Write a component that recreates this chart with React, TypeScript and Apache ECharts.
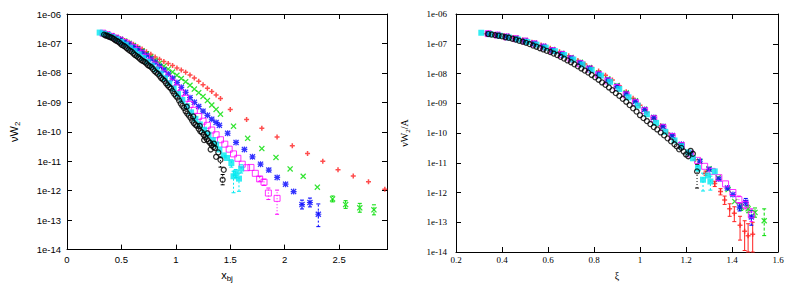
import React, { useEffect, useRef } from "react";
import * as echarts from "echarts";

// ---------- LEFT PANEL: x_bj vs log10(nu W2) ----------
const redLeft = [[0.33,-6.65],[0.37,-6.69],[0.41,-6.74],[0.45,-6.79],[0.49,-6.84],[0.53,-6.90],[0.57,-6.96],[0.61,-7.03],[0.65,-7.11],[0.69,-7.19],[0.73,-7.28],[0.77,-7.37],[0.81,-7.46],[0.85,-7.54],[0.89,-7.61],[0.93,-7.68],[0.97,-7.75],[1.01,-7.83],[1.05,-7.90],[1.09,-7.98],[1.13,-8.07],[1.17,-8.17],[1.21,-8.28],[1.25,-8.40],[1.29,-8.52],[1.33,-8.63],[1.37,-8.75],[1.41,-8.87],[1.50,-9.24],[1.65,-9.58],[1.79,-9.88],[1.93,-10.18],[2.07,-10.47],[2.21,-10.74],[2.35,-11.00],[2.49,-11.29],[2.63,-11.50],[2.77,-11.70],[2.92,-11.95]];
const greenLeft = [[0.33,-6.65],[0.37,-6.69],[0.41,-6.74],[0.45,-6.80],[0.49,-6.86],[0.53,-6.92],[0.57,-6.99],[0.61,-7.07],[0.65,-7.16],[0.69,-7.25],[0.73,-7.35],[0.77,-7.46],[0.81,-7.57],[0.85,-7.67],[0.89,-7.77],[0.93,-7.87],[0.97,-7.97],[1.01,-8.08],[1.05,-8.19],[1.09,-8.30],[1.13,-8.42],[1.17,-8.55],[1.21,-8.67],[1.25,-8.80],[1.29,-8.94],[1.33,-9.09],[1.37,-9.24],[1.41,-9.40],[1.53,-9.81],[1.66,-10.22],[1.79,-10.57],[1.92,-10.87],[2.05,-11.26],[2.17,-11.51],[2.30,-11.88],[2.44,-12.28],[2.56,-12.47],[2.69,-12.58],[2.82,-12.65]];
const blueLeft = [[0.33,-6.65],[0.37,-6.70],[0.41,-6.75],[0.45,-6.81],[0.49,-6.87],[0.53,-6.94],[0.57,-7.02],[0.61,-7.10],[0.65,-7.19],[0.69,-7.29],[0.73,-7.40],[0.77,-7.52],[0.81,-7.64],[0.85,-7.77],[0.89,-7.90],[0.93,-8.04],[0.97,-8.18],[1.01,-8.33],[1.05,-8.49],[1.09,-8.66],[1.13,-8.84],[1.17,-9.00],[1.21,-9.14],[1.25,-9.30],[1.29,-9.44],[1.33,-9.57],[1.37,-9.68],[1.40,-9.78],[1.476,-10.05],[1.553,-10.36],[1.63,-10.60],[1.704,-10.85],[1.778,-11.10],[1.854,-11.30],[1.931,-11.55],[2.008,-11.78],[2.082,-12.03],[2.159,-12.47],[2.232,-12.40],[2.309,-12.80]];
const magentaLeft = [[0.33,-6.65],[0.37,-6.70],[0.41,-6.76],[0.45,-6.82],[0.49,-6.89],[0.53,-6.97],[0.57,-7.05],[0.61,-7.14],[0.65,-7.24],[0.69,-7.35],[0.73,-7.47],[0.77,-7.60],[0.81,-7.74],[0.85,-7.88],[0.89,-8.03],[0.93,-8.18],[0.97,-8.34],[1.01,-8.51],[1.05,-8.68],[1.09,-8.86],[1.13,-9.07],[1.17,-9.27],[1.21,-9.48],[1.25,-9.64],[1.29,-9.78],[1.33,-9.94],[1.37,-10.10],[1.41,-10.27],[1.45,-10.42],[1.49,-10.59],[1.53,-10.75],[1.57,-10.90],[1.61,-11.10],[1.65,-11.22],[1.69,-11.21],[1.73,-11.41],[1.77,-11.60],[1.81,-11.71],[1.85,-12.08],[1.93,-12.26]];
const cyanLeft = [[0.30,-6.63],[0.34,-6.67],[0.38,-6.72],[0.42,-6.79],[0.46,-6.86],[0.50,-6.95],[0.54,-7.04],[0.58,-7.14],[0.62,-7.25],[0.66,-7.37],[0.70,-7.49],[0.74,-7.62],[0.78,-7.75],[0.82,-7.88],[0.86,-8.02],[0.90,-8.18],[0.94,-8.35],[0.98,-8.53],[1.02,-8.72],[1.06,-8.92],[1.10,-9.13],[1.14,-9.34],[1.18,-9.56],[1.22,-9.75],[1.26,-9.93],[1.30,-10.10],[1.34,-10.28],[1.37,-10.43],[1.40,-10.60],[1.44,-10.80],[1.47,-10.89],[1.51,-11.06],[1.53,-11.51],[1.55,-11.40],[1.58,-11.59],[1.60,-11.25]];
const blackLeft = [[0.34,-6.70],[0.355,-6.73],[0.37,-6.74],[0.385,-6.77],[0.40,-6.79],[0.415,-6.81],[0.43,-6.85],[0.445,-6.89],[0.46,-6.92],[0.475,-6.95],[0.49,-7.00],[0.505,-7.05],[0.52,-7.08],[0.535,-7.11],[0.55,-7.16],[0.565,-7.21],[0.58,-7.25],[0.595,-7.28],[0.61,-7.34],[0.625,-7.39],[0.64,-7.43],[0.655,-7.47],[0.67,-7.52],[0.685,-7.57],[0.70,-7.60],[0.715,-7.63],[0.73,-7.68],[0.745,-7.74],[0.76,-7.77],[0.775,-7.81],[0.79,-7.87],[0.805,-7.94],[0.82,-7.99],[0.835,-8.03],[0.85,-8.10],[0.865,-8.17],[0.88,-8.22],[0.895,-8.27],[0.91,-8.35],[0.925,-8.42],[0.94,-8.48],[0.955,-8.53],[0.97,-8.62],[0.985,-8.71],[1.00,-8.78],[1.015,-8.84],[1.03,-8.94],[1.045,-9.04],[1.06,-9.12],[1.075,-9.19],[1.09,-9.30],[1.10,-9.15],[1.105,-9.38],[1.12,-9.45],[1.135,-9.52],[1.15,-9.62],[1.16,-9.48],[1.165,-9.70],[1.18,-9.76],[1.195,-9.80],[1.21,-9.90],[1.22,-9.80],[1.225,-9.98],[1.24,-10.02],[1.255,-10.10],[1.26,-10.28],[1.27,-10.18],[1.285,-10.25],[1.29,-10.05],[1.30,-10.32],[1.315,-10.38],[1.32,-10.60],[1.33,-10.46],[1.345,-10.52],[1.35,-10.40],[1.36,-10.55],[1.37,-10.85],[1.39,-10.70],[1.41,-10.95],[1.44,-11.29],[1.43,-11.63]];

// error bars [x, lowLog10, highLog10]
const greenLeftErr = [[2.44,-12.38,-12.18],[2.56,-12.60,-12.34],[2.69,-12.73,-12.43],[2.82,-12.82,-12.48]];
const blueLeftErr = [[2.159,-12.62,-12.32],[2.232,-12.55,-12.25],[2.309,-13.22,-12.45]];
const magentaLeftErr = [[1.77,-11.68,-11.52],[1.81,-11.82,-11.61],[1.85,-12.30,-11.91],[1.93,-12.80,-11.98]];
const cyanLeftErr = [[1.51,-11.20,-10.95],[1.53,-12.07,-11.34],[1.55,-11.55,-11.28],[1.58,-12.02,-11.40],[1.60,-11.40,-11.12]];
const blackLeftErr = [[1.43,-11.80,-11.45],[1.41,-11.20,-10.85]];

// ---------- RIGHT PANEL: xi vs log10(nu W2 / A) ----------
const redRight = [[0.33,-6.66],[0.37,-6.70],[0.41,-6.74],[0.45,-6.80],[0.49,-6.87],[0.53,-6.95],[0.57,-7.04],[0.61,-7.15],[0.65,-7.27],[0.69,-7.40],[0.73,-7.56],[0.76,-7.68],[0.79,-7.80],[0.82,-7.92],[0.85,-8.06],[0.88,-8.22],[0.91,-8.41],[0.94,-8.61],[0.97,-8.83],[1.00,-9.07],[1.03,-9.30],[1.06,-9.52],[1.09,-9.76],[1.12,-10.00],[1.15,-10.24],[1.18,-10.46],[1.21,-10.66],[1.24,-10.90],[1.285,-11.35],[1.325,-11.70],[1.35,-11.97],[1.368,-12.25],[1.39,-12.55],[1.41,-12.70],[1.435,-13.10],[1.455,-13.30],[1.47,-13.45],[1.49,-13.40]];
const greenRight = [[0.34,-6.66],[0.38,-6.70],[0.42,-6.75],[0.46,-6.81],[0.50,-6.89],[0.54,-6.98],[0.58,-7.08],[0.62,-7.19],[0.66,-7.32],[0.70,-7.46],[0.74,-7.62],[0.78,-7.80],[0.82,-7.98],[0.86,-8.18],[0.90,-8.40],[0.94,-8.65],[0.98,-8.92],[1.02,-9.20],[1.06,-9.48],[1.10,-9.78],[1.14,-10.10],[1.18,-10.40],[1.22,-10.70],[1.26,-10.95],[1.30,-11.20],[1.34,-11.50],[1.383,-11.90],[1.412,-12.30],[1.44,-12.49],[1.47,-12.55],[1.50,-12.67],[1.54,-12.95]];
const blueRight = [[0.34,-6.66],[0.38,-6.70],[0.42,-6.76],[0.46,-6.82],[0.50,-6.90],[0.54,-6.99],[0.58,-7.09],[0.62,-7.21],[0.66,-7.34],[0.70,-7.48],[0.74,-7.64],[0.78,-7.82],[0.82,-8.01],[0.86,-8.21],[0.90,-8.43],[0.94,-8.68],[0.98,-8.94],[1.02,-9.21],[1.06,-9.48],[1.10,-9.78],[1.14,-10.08],[1.18,-10.38],[1.22,-10.68],[1.26,-10.95],[1.30,-11.22],[1.343,-11.55],[1.38,-11.85],[1.404,-12.07],[1.433,-12.49],[1.46,-12.33],[1.484,-12.82]];
const magentaRight = [[0.34,-6.66],[0.38,-6.71],[0.42,-6.77],[0.46,-6.83],[0.50,-6.91],[0.54,-7.00],[0.58,-7.11],[0.62,-7.23],[0.66,-7.36],[0.70,-7.51],[0.74,-7.67],[0.78,-7.85],[0.82,-8.04],[0.86,-8.25],[0.90,-8.47],[0.94,-8.72],[0.98,-8.98],[1.02,-9.25],[1.06,-9.52],[1.10,-9.82],[1.14,-10.12],[1.18,-10.42],[1.22,-10.70],[1.25,-10.92],[1.281,-11.12],[1.314,-11.29],[1.343,-11.50],[1.372,-11.71],[1.404,-12.00],[1.43,-12.24],[1.458,-12.41],[1.484,-12.75]];
const cyanRight = [[0.31,-6.63],[0.35,-6.68],[0.39,-6.73],[0.43,-6.79],[0.47,-6.86],[0.51,-6.94],[0.55,-7.03],[0.59,-7.13],[0.63,-7.25],[0.67,-7.38],[0.71,-7.53],[0.75,-7.70],[0.79,-7.88],[0.83,-8.07],[0.87,-8.28],[0.91,-8.52],[0.95,-8.80],[0.99,-9.08],[1.03,-9.37],[1.07,-9.66],[1.11,-9.96],[1.15,-10.25],[1.18,-10.45],[1.21,-10.65],[1.23,-10.85],[1.252,-11.18],[1.274,-11.57],[1.295,-11.43],[1.306,-11.63],[1.325,-11.29]];
const blackRight = [[0.34,-6.67],[0.355,-6.69],[0.37,-6.71],[0.385,-6.73],[0.40,-6.75],[0.415,-6.78],[0.43,-6.80],[0.445,-6.83],[0.46,-6.86],[0.475,-6.90],[0.49,-6.93],[0.505,-6.97],[0.52,-7.01],[0.535,-7.06],[0.55,-7.10],[0.565,-7.15],[0.58,-7.19],[0.595,-7.24],[0.61,-7.28],[0.625,-7.33],[0.64,-7.38],[0.655,-7.44],[0.67,-7.50],[0.685,-7.56],[0.70,-7.62],[0.715,-7.69],[0.73,-7.76],[0.745,-7.83],[0.76,-7.90],[0.775,-7.97],[0.79,-8.05],[0.805,-8.13],[0.82,-8.21],[0.835,-8.30],[0.85,-8.38],[0.865,-8.47],[0.88,-8.56],[0.895,-8.66],[0.91,-8.75],[0.925,-8.85],[0.94,-8.95],[0.955,-9.06],[0.97,-9.17],[0.985,-9.28],[1.00,-9.40],[1.015,-9.50],[1.03,-9.60],[1.045,-9.70],[1.06,-9.80],[1.075,-9.88],[1.09,-9.98],[1.105,-10.08],[1.12,-10.18],[1.135,-10.28],[1.15,-10.38],[1.16,-10.45],[1.17,-10.55],[1.18,-10.50],[1.19,-10.62],[1.20,-10.72],[1.21,-10.78],[1.22,-10.60],[1.23,-10.70],[1.248,-11.29]];

const redRightErr = [[1.285,-11.42,-11.28],[1.325,-11.80,-11.62],[1.35,-12.08,-11.87],[1.368,-12.40,-12.12],[1.39,-12.80,-12.38],[1.41,-12.98,-12.48],[1.435,-13.60,-12.80],[1.455,-13.95,-12.95],[1.47,-14.0,-13.05],[1.49,-14.0,-13.0]];
const greenRightErr = [[1.44,-12.60,-12.38],[1.47,-12.68,-12.43],[1.50,-12.83,-12.52],[1.54,-13.45,-12.55]];
const blueRightErr = [[1.433,-12.62,-12.36],[1.46,-12.45,-12.20],[1.484,-13.10,-12.60]];
const magentaRightErr = [[1.43,-12.36,-12.12],[1.458,-12.55,-12.27],[1.484,-12.98,-12.55]];
const cyanRightErr = [[1.252,-11.28,-11.08],[1.274,-11.95,-11.35],[1.306,-11.92,-11.45]];
const blackRightErr = [[1.248,-11.85,-11.05]];

const xLeftTicks = { min: 0, max: 2.94, interval: 0.5 };
const xRightTicks = { min: 0.2, max: 1.6, interval: 0.2 };
const yRange = { min: 1e-14, max: 1e-6 };

const PLUS = "path://M3.5,0H6.5V3.5H10V6.5H6.5V10H3.5V6.5H0V3.5H3.5Z";
const CROSS = "path://M0,1.5L1.5,0L5,3.5L8.5,0L10,1.5L6.5,5L10,8.5L8.5,10L5,6.5L1.5,10L0,8.5L3.5,5Z";
const STAR = "path://M4,0H6V4H10V6H6V10H4V6H0V4H4Z M0,1.5L1.5,0L5,3.5L8.5,0L10,1.5L6.5,5L10,8.5L8.5,10L5,6.5L1.5,10L0,8.5L3.5,5Z";

const STYLES = {
  red: { color: "#ff2020", symbol: PLUS, size: 5, open: false, bw: 1, dash: null as number[] | null },
  green: { color: "#00dd00", symbol: CROSS, size: 6, open: false, bw: 1, dash: [3, 2] },
  blue: { color: "#0000ff", symbol: STAR, size: 6, open: false, bw: 1, dash: [2, 2] },
  magenta: { color: "#ff00ff", symbol: "rect", size: 6, open: true, bw: 1, dash: [1, 2] },
  cyan: { color: "#00e8f0", symbol: "rect", size: 6, open: false, bw: 1, dash: [2, 2] },
  black: { color: "#000000", symbol: "circle", size: 5, open: true, bw: 1.3, dash: [1, 2] },
};

function markers(data: number[][], st: any, ax: number) {
  return {
    type: "scatter",
    xAxisIndex: ax,
    yAxisIndex: ax,
    data: data.map(([x, l]) => [x, Math.pow(10, l)]),
    symbol: st.symbol,
    symbolSize: st.size,
    itemStyle: st.open
      ? { color: "rgba(0,0,0,0)", borderColor: st.color, borderWidth: st.bw }
      : { color: st.color },
    silent: true,
    z: 3,
  };
}

function errbars(data: number[][], st: any, ax: number) {
  return {
    type: "custom",
    xAxisIndex: ax,
    yAxisIndex: ax,
    data: data.map(([x, lo, hi]) => [x, Math.pow(10, lo), Math.pow(10, hi)]),
    encode: { x: 0, y: [1, 2] },
    silent: true,
    z: 2,
    renderItem: (_p: any, api: any) => {
      const x = api.value(0);
      const a = api.coord([x, api.value(1)]);
      const b = api.coord([x, api.value(2)]);
      const w = 2;
      const cap = { stroke: st.color, lineWidth: 1 };
      return {
        type: "group",
        children: [
          { type: "line", shape: { x1: a[0], y1: a[1], x2: b[0], y2: b[1] }, style: { stroke: st.color, lineWidth: 1, lineDash: st.dash || undefined } },
          { type: "line", shape: { x1: a[0] - w, y1: a[1], x2: a[0] + w, y2: a[1] }, style: cap },
          { type: "line", shape: { x1: b[0] - w, y1: b[1], x2: b[0] + w, y2: b[1] }, style: cap },
        ],
      };
    },
  };
}

const expLabel = (v: number) => {
  const k = Math.round(Math.log10(v));
  const a = Math.abs(k);
  return "1e" + (k < 0 ? "-" : "+") + (a < 10 ? "0" : "") + a;
};

const SANS = "Liberation Sans";
const SERIF = "Liberation Serif";

function xAxis(grid: number, rng: any, font: string, fs: number, top: boolean, margin: number, name?: string, rich?: any, gap?: number) {
  return {
    type: "value",
    gridIndex: grid,
    min: rng.min,
    max: rng.max,
    interval: rng.interval,
    position: top ? "top" : "bottom",
    axisLine: { show: true, onZero: false, lineStyle: { color: "#000", width: 1 } },
    axisTick: { show: true, inside: true, length: 5, lineStyle: { color: "#000" } },
    axisLabel: {
      show: !top,
      color: "#000",
      fontFamily: font,
      fontSize: fs,
      margin,
      showMaxLabel: rng.max === 1.6,
      formatter: (v: number) => {
        const r = v / rng.interval;
        if (Math.abs(r - Math.round(r)) > 1e-6) return "";
        return String(Math.round(v * 100) / 100);
      },
    },
    splitLine: { show: false },
    name: top ? undefined : name,
    nameLocation: "middle",
    nameGap: gap,
    nameTextStyle: { color: "#000", fontFamily: font, fontSize: fs + 1, rich },
  };
}

function yAxis(grid: number, font: string, fs: number, right: boolean, margin: number, name?: string, rich?: any, gap?: number) {
  return {
    type: "log",
    logBase: 10,
    gridIndex: grid,
    min: yRange.min,
    max: yRange.max,
    splitNumber: 8,
    position: right ? "right" : "left",
    axisLine: { show: true, onZero: false, lineStyle: { color: "#000", width: 1 } },
    axisTick: { show: true, inside: true, length: 5, lineStyle: { color: "#000" } },
    axisLabel: { show: !right, color: "#000", fontFamily: font, fontSize: fs, margin, formatter: expLabel },
    splitLine: { show: false },
    minorTick: { show: false },
    name: right ? undefined : name,
    nameLocation: "middle",
    nameRotate: 90,
    nameGap: gap,
    nameTextStyle: { color: "#000", fontFamily: font, fontSize: fs + 1, rich },
  };
}

export default function App() {
  const ref = useRef<HTMLDivElement>(null);
  useEffect(() => {
    if (!ref.current) return;
    const chart = echarts.init(ref.current, undefined, { renderer: "svg" });
    const richSans = {
      n: { fontFamily: SANS, fontSize: 11, color: "#000", lineHeight: 14, verticalAlign: "middle" },
      s: { fontFamily: SANS, fontSize: 8, color: "#000", lineHeight: 14, verticalAlign: "bottom" },
    };
    const richSerif = {
      n: { fontFamily: SERIF, fontSize: 10, color: "#000", lineHeight: 14, verticalAlign: "middle" },
      s: { fontFamily: SERIF, fontSize: 7, color: "#000", lineHeight: 14, verticalAlign: "bottom" },
    };
    const left = [
      [redLeft, STYLES.red], [greenLeft, STYLES.green], [blueLeft, STYLES.blue],
      [magentaLeft, STYLES.magenta], [cyanLeft, STYLES.cyan], [blackLeft, STYLES.black],
    ];
    const leftErr = [
      [greenLeftErr, STYLES.green], [blueLeftErr, STYLES.blue], [magentaLeftErr, STYLES.magenta],
      [cyanLeftErr, STYLES.cyan], [blackLeftErr, STYLES.black],
    ];
    const right = [
      [redRight, STYLES.red], [greenRight, STYLES.green], [blueRight, STYLES.blue],
      [magentaRight, STYLES.magenta], [cyanRight, STYLES.cyan], [blackRight, STYLES.black],
    ];
    const rightErr = [
      [redRightErr, STYLES.red], [greenRightErr, STYLES.green], [blueRightErr, STYLES.blue],
      [magentaRightErr, STYLES.magenta], [cyanRightErr, STYLES.cyan], [blackRightErr, STYLES.black],
    ];
    const series: any[] = [];
    leftErr.forEach(([d, s]) => series.push(errbars(d as number[][], s, 0)));
    rightErr.forEach(([d, s]) => series.push(errbars(d as number[][], s, 2)));
    left.forEach(([d, s]) => series.push(markers(d as number[][], s, 0)));
    right.forEach(([d, s]) => series.push(markers(d as number[][], s, 2)));

    chart.setOption({
      animation: false,
      backgroundColor: "#fff",
      grid: [
        { left: 67, top: 14, width: 320, height: 238 },
        { left: 456, top: 14, width: 322, height: 238 },
      ],
      xAxis: [
        xAxis(0, xLeftTicks, SANS, 9.5, false, 5, "{n|x}{s|bj}", richSans, 17),
        xAxis(0, xLeftTicks, SANS, 9.5, true, 5),
        xAxis(1, xRightTicks, SERIF, 9, false, 3, "{n|ξ}", richSerif, 16),
        xAxis(1, xRightTicks, SERIF, 9, true, 3),
      ],
      yAxis: [
        yAxis(0, SANS, 9.5, false, 6, "{n|νW}{s|2}", richSans, 46),
        yAxis(0, SANS, 9.5, true, 6),
        yAxis(1, SERIF, 9, false, 9, "{n|νW}{s|2}{n|/A}", richSerif, 45),
        yAxis(1, SERIF, 9, true, 9),
      ],
      series,
    });
    return () => chart.dispose();
  }, []);
  return <div ref={ref} style={{ position: "fixed", left: 0, top: 0, width: 789, height: 287, background: "#fff" }} />;
}
